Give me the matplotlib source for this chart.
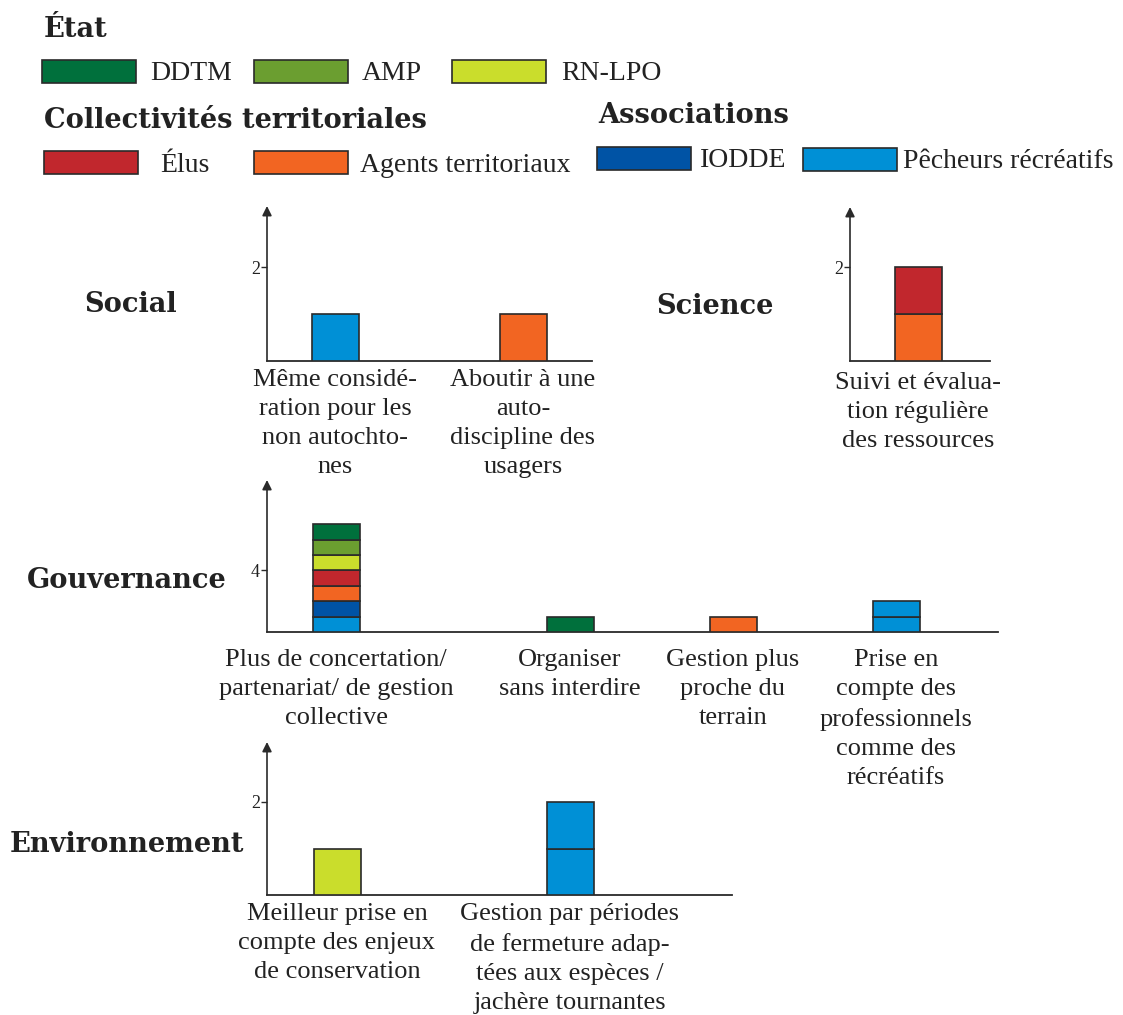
import matplotlib
matplotlib.use("Agg")
import matplotlib.pyplot as plt
from matplotlib.patches import Rectangle

plt.rcParams['font.family'] = ['Liberation Serif', 'DejaVu Serif']

# ---------------- data ----------------
actors = ['DDTM', 'AMP', 'RN-LPO', 'Élus', 'Agents territoriaux', 'IODDE', 'Pêcheurs récréatifs']
actor_colors = ['#00703c', '#6b9e30', '#cadd2c', '#c1272d', '#f26522', '#0053a5', '#0090d6']
# stacking order, bottom to top
stack_order = ['Pêcheurs récréatifs', 'IODDE', 'Agents territoriaux', 'Élus', 'RN-LPO', 'AMP', 'DDTM']

social_labels = ['Même considé-\nration pour les\nnon autochto-\nnes',
                 'Aboutir à une\nauto-\ndiscipline des\nusagers']
social_pecheurs = [1, 0]
social_agents = [0, 1]

science_labels = ['Suivi et évalua-\ntion régulière\ndes ressources']
science_agents = [1]
science_elus = [1]

gouv_labels = ['Plus de concertation/\npartenariat/ de gestion\ncollective',
               'Organiser\nsans interdire',
               'Gestion plus\nproche du\nterrain',
               'Prise en\ncompte des\nprofessionnels\ncomme des\nrécréatifs']
gouv_ddtm = [1, 1, 0, 0]
gouv_amp = [1, 0, 0, 0]
gouv_rnlpo = [1, 0, 0, 0]
gouv_elus = [1, 0, 0, 0]
gouv_agents = [1, 0, 1, 0]
gouv_iodde = [1, 0, 0, 0]
gouv_pecheurs = [1, 0, 0, 2]

env_labels = ['Meilleur prise en\ncompte des enjeux\nde conservation',
              'Gestion par périodes\nde fermeture adap-\ntées aux espèces /\njachère tournantes']
env_rnlpo = [1, 0]
env_pecheurs = [0, 2]

# ---------------- layout ----------------
W, H = 1123, 1015
fig = plt.figure(figsize=(W / 100, H / 100), dpi=100)
fig.patch.set_facecolor('white')

EDGE = '#2a2a2a'
TXT = '#222222'
LABEL_FS = 19
LEGEND_FS = 20
BOLD_FS = 19.6
BOLD_FAMILY = ['DejaVu Serif']

bg = fig.add_axes([0, 0, 1, 1])
bg.set_xlim(0, W)
bg.set_ylim(H, 0)
bg.axis('off')

color_of = dict(zip(actors, actor_colors))


def bold(x, y, s):
    bg.text(x, y, s, fontsize=BOLD_FS, fontweight='bold', family=BOLD_FAMILY,
            color=TXT, va='baseline', ha='left')


def legend_entry(x, y0, y1, actor, tx, ty):
    bg.add_patch(Rectangle((x, y0), 94, y1 - y0, facecolor=color_of[actor],
                           edgecolor=EDGE, lw=1.2))
    bg.text(tx, ty, actor, fontsize=LEGEND_FS, color=TXT, va='baseline', ha='left')


bold(44, 37, 'État')
legend_entry(42, 60, 83, 'DDTM', 150, 80)
legend_entry(254, 60, 83, 'AMP', 362, 80)
legend_entry(452, 60, 83, 'RN-LPO', 561, 80)
bold(44, 128, 'Collectivités territoriales')
bold(598, 123, 'Associations')
legend_entry(44, 151, 174, 'Élus', 160, 172)
legend_entry(254, 151, 174, 'Agents territoriaux', 360, 172)
legend_entry(597, 147, 170, 'IODDE', 700, 167)
legend_entry(803, 148, 171, 'Pêcheurs récréatifs', 903, 168)

# panel titles
bold(84, 312, 'Social')
bold(656, 314, 'Science')
bold(27, 588, 'Gouvernance')
bold(10, 852, 'Environnement')


def panel(x0, x1, ybase, ytop, unit_px, centers, labels, series, tick, label_gap):
    ax = fig.add_axes([x0 / W, 1 - ybase / H, (x1 - x0) / W, (ybase - ytop) / H])
    ax.patch.set_alpha(0)
    ax.set_xlim(0, x1 - x0)
    ax.set_ylim(0, (ybase - ytop) / unit_px)
    for s in ['top', 'right', 'left']:
        ax.spines[s].set_visible(False)
    ax.spines['bottom'].set_color(EDGE)
    ax.spines['bottom'].set_linewidth(1.3)
    ax.annotate('', xy=(0, 1), xytext=(0, 0), xycoords='axes fraction',
                arrowprops=dict(arrowstyle='-|>', lw=1.2, color=EDGE,
                                mutation_scale=14, shrinkA=0, shrinkB=0))
    ax.set_xticks([])
    ax.set_yticks([tick])
    ax.set_yticklabels([str(tick)], fontsize=13, color=TXT)
    ax.tick_params(axis='y', length=4, width=1, pad=1, color=EDGE)
    # stacked unit segments
    bottoms = [0] * len(centers)
    for actor in stack_order:
        if actor not in series:
            continue
        vals = series[actor]
        for i, v in enumerate(vals):
            for _ in range(v):
                ax.bar(centers[i], 1, width=47, bottom=bottoms[i],
                       color=color_of[actor], edgecolor=EDGE, lw=1.2, zorder=3)
                bottoms[i] += 1
    for c, lab in zip(centers, labels):
        ax.annotate(lab, xy=(c, 0), xycoords='data', xytext=(0, -label_gap),
                    textcoords='offset pixels', ha='center', va='top',
                    fontsize=LABEL_FS, color=TXT, linespacing=1.42,
                    annotation_clip=False)
    return ax


panel(267, 592, 361, 206, 47, [68, 256], social_labels,
      {'Pêcheurs récréatifs': social_pecheurs, 'Agents territoriaux': social_agents},
      2, 8)
panel(850, 990, 361, 207, 47, [68], science_labels,
      {'Agents territoriaux': science_agents, 'Élus': science_elus}, 2, 11)
panel(267, 998, 632, 480, 15.4, [69, 303, 466, 629], gouv_labels,
      {'DDTM': gouv_ddtm, 'AMP': gouv_amp, 'RN-LPO': gouv_rnlpo, 'Élus': gouv_elus,
       'Agents territoriaux': gouv_agents, 'IODDE': gouv_iodde,
       'Pêcheurs récréatifs': gouv_pecheurs}, 4, 17)
panel(267, 732, 895, 742, 46.5, [70, 303], env_labels,
      {'RN-LPO': env_rnlpo, 'Pêcheurs récréatifs': env_pecheurs}, 2, 8)

fig.savefig('out.png', dpi=100)
